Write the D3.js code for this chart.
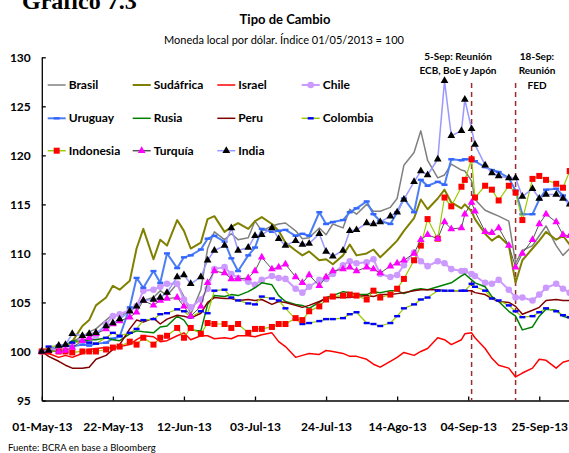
<!DOCTYPE html>
<html>
<head>
<meta charset="utf-8">
<script src="https://cdnjs.cloudflare.com/ajax/libs/d3/7.8.5/d3.min.js"></script>
<style>
  body { margin: 0; background: #fff; }
  text { font-family: Lato, "DejaVu Sans", sans-serif; }
</style>
</head>
<body>
<div id="chart"></div>
<script>
/* Tipo de cambio, indice 01/05/2013 = 100 */

var dates = ["2013-05-01","2013-05-03","2013-05-06","2013-05-08","2013-05-10","2013-05-13","2013-05-15","2013-05-17","2013-05-20","2013-05-22",
  "2013-05-24","2013-05-27","2013-05-29","2013-05-31","2013-06-03","2013-06-05","2013-06-07","2013-06-10","2013-06-12","2013-06-14",
  "2013-06-17","2013-06-19","2013-06-21","2013-06-24","2013-06-26","2013-06-28","2013-07-01","2013-07-03","2013-07-05","2013-07-08",
  "2013-07-10","2013-07-12","2013-07-15","2013-07-17","2013-07-19","2013-07-22","2013-07-24","2013-07-26","2013-07-29","2013-07-31",
  "2013-08-02","2013-08-05","2013-08-07","2013-08-09","2013-08-12","2013-08-14","2013-08-16","2013-08-19","2013-08-21","2013-08-23",
  "2013-08-26","2013-08-28","2013-08-30","2013-09-02","2013-09-03","2013-09-05","2013-09-06","2013-09-09","2013-09-11","2013-09-13",
  "2013-09-16","2013-09-18","2013-09-20","2013-09-23","2013-09-25","2013-09-27","2013-09-30","2013-10-02","2013-10-04"];

var brasil = [100,100.3,100.4,100.6,101,101.5,102,102.3,103.2,103.8,
  103.6,104.1,104.6,105.2,105.5,106.2,105.7,106.9,105.6,103.8,
  106.3,110.5,112.2,111.4,112.0,111.4,111.6,113.3,112.3,112.8,
  113.0,113.1,112.3,111.5,111.6,112.6,111.9,113.0,112.6,114.5,
  114.0,115.0,114.3,114.3,114.7,115.6,119.0,120.3,122.5,119.5,
  117.7,118.0,119.1,118.5,118.4,117.4,115.5,114.4,114.1,113.8,
  113.3,109.0,110.3,110.8,111.8,112.8,110.8,109.8,110.5];

var sudafrica = [100,100.1,100.3,100.5,101.0,102.6,103.2,104.7,105.5,106.7,
  106.3,107.2,110.5,112.5,109.4,111.4,110.8,113.4,112.3,110.5,
  111.1,113.5,113.8,112.2,112.7,113.1,112.5,113.3,113.7,113.0,
  112.3,111.1,110.3,109.8,110.2,109.3,109.4,108.9,109.8,110.9,
  109.8,110.0,110.4,109.6,110.6,111.3,112.3,113.6,115.5,114.5,
  115.6,116.5,115.2,114.6,115.0,114.3,113.5,112.0,111.3,111.8,
  110.8,107.0,109.3,110.5,111.3,112.2,111.4,111.8,110.9];

var israel = [100,99.8,99.4,99.6,99.4,99.8,100.2,100.3,100.4,100.3,
  100.5,100.7,101.2,101.6,101.5,101.0,101.1,101.6,101.9,101.2,
  101.6,101.6,101.3,101.4,101.3,101.6,101.6,101.5,101.7,101.9,
  101.0,100.5,99.4,99.6,99.8,99.7,100.1,100.0,99.8,99.5,
  99.5,99.2,98.7,98.4,99.0,99.4,99.9,99.6,100.0,100.3,
  101.4,101.2,100.7,101.2,101.8,101.9,101.4,100.3,99.3,98.6,
  98.3,97.4,97.8,98.3,99.2,99.1,98.3,98.9,99.1];

var chile = [100,100.2,100.3,100.5,100.8,101.2,101.0,101.6,102.8,103.6,
  103.8,104.2,104.6,106.2,106.3,106.6,106.9,106.9,105.3,104.5,
  105.3,106.4,108.4,108.6,107.9,107.5,107.1,106.8,107.3,107.7,
  107.5,107.4,106.4,106.0,106.6,107.3,107.4,107.9,108.8,109.2,
  109.0,109.1,109.4,107.9,107.6,107.8,108.8,110.1,109.2,108.7,
  109.2,109.0,108.4,108.2,108.2,107.9,107.7,107.0,106.9,107.3,
  106.3,105.5,105.5,105.2,105.8,106.5,106.9,106.4,106.0];

var uruguay = [100,100.2,100.5,100.6,100.5,100.7,100.6,100.8,100.9,101.3,
  101.5,104.5,107.5,106.5,108.2,107.0,110.0,108.5,109.6,109.8,
  110.4,111.5,111.8,111.2,109.5,108.2,109.8,110.6,112.5,112.2,
  112.3,112.4,111.8,112.0,111.8,114.2,113.0,113.2,113.4,114.2,
  114.6,115.3,114.0,113.3,113.0,114.2,115.6,114.2,117.5,116.9,
  117.3,117.0,119.6,119.5,119.6,119.6,119.4,118.8,118.5,118.3,
  117.7,116.4,114.0,114.0,115.5,116.5,116.6,115.9,115.0];

var rusia = [100,100.2,100.5,100.6,101.1,101.0,101.2,101.2,101.4,101.2,
  101.1,101.8,102.1,102.0,101.9,102.5,102.6,103.6,103.2,102.2,
  102.1,104.8,105.7,105.6,105.8,105.7,106.1,106.5,107.0,106.8,
  105.7,105.1,104.8,104.7,104.4,105.0,105.5,105.7,106.1,106.0,
  105.8,105.8,106.1,106.0,106.2,106.2,105.9,106.3,106.4,106.3,
  106.6,106.8,107.0,107.7,107.9,107.3,107.0,106.6,105.6,105.1,
  104.1,103.6,102.2,102.5,103.6,104.3,104.2,103.6,103.4];

var peru = [100,99.5,99.0,98.6,98.3,98.3,98.4,99.2,99.6,100.2,
  100.7,102.3,103.2,103.0,103.4,102.8,103.3,103.7,103.6,103.4,
  103.9,105.0,105.5,105.4,105.4,105.2,105.3,105.2,105.3,104.8,
  105.1,105.0,104.7,104.5,104.7,105.1,105.4,105.5,105.5,105.5,
  105.6,105.7,105.6,105.8,105.8,105.9,106.0,106.2,106.3,106.3,
  106.3,106.2,106.2,106.2,106.2,106.2,106.0,105.8,105.4,105.1,
  105.0,104.6,103.8,104.2,104.5,105.2,105.3,105.2,105.2];

var colombia = [100,100.5,100.6,100.6,100.9,101.0,100.9,100.8,101.4,101.9,
  101.6,101.9,102.3,103.2,103.3,103.8,103.9,104.3,104.1,103.5,
  104.1,103.9,106.2,106.3,105.5,105.2,104.9,104.8,105.6,105.4,
  105.2,104.4,103.3,102.8,102.9,103.1,103.3,103.3,103.4,103.8,
  104.0,102.9,102.8,102.6,102.9,103.6,104.4,104.8,105.3,105.5,
  106.2,106.2,106.2,106.2,106.2,106.9,106.6,106.2,105.4,105.2,
  104.7,104.1,103.5,103.6,104.0,104.4,104.1,103.7,103.5];

var indonesia = [100,100,100,100,99.9,100,100,100,100.2,100.4,
  100.5,101.0,100.7,101.4,100.7,101.4,101.6,102.4,101.4,102.4,
  101.8,102.9,102.8,102.8,102.4,102.8,101.9,102.3,102.3,102.5,
  102.8,102.8,103.4,103.2,104.1,104.6,105.3,105.6,105.7,105.8,
  105.7,105.3,106.2,105.5,105.8,106.4,107.4,109.3,110.8,113.5,
  111.5,115.7,114.8,116.8,117.5,119.6,115.7,116.9,116.5,115.4,
  116.9,116.2,113.4,117.6,117.9,117.5,117.1,116.7,118.4];

var turquia = [100,100.1,100.0,100.1,100.4,101.1,101.4,101.8,102.3,102.8,
  103.1,103.5,104.0,105.2,104.7,105.2,105.4,105.5,104.6,103.6,
  104.6,107.0,108.2,108.0,107.4,107.4,107.5,108.2,109.6,108.4,
  108.6,108.9,107.6,107.0,107.8,106.7,107.6,108.2,108.4,108.6,
  108.2,108.6,108.4,108.0,108.7,109.0,109.3,110.0,111.4,111.9,
  111.5,113.2,112.5,112.6,114.0,115.2,114.3,112.2,112.1,112.6,
  110.8,108.6,110.0,111.4,113.0,114.0,113.2,111.9,111.8];

var india = [100,100.1,100.6,100.7,101.8,101.6,101.8,101.9,102.6,102.9,
  103.3,104.1,104.6,105.2,105.3,105.5,106.0,107.6,107.8,106.9,
  107.6,109.3,110.3,110.8,112.6,110.3,110.6,111.8,111.9,112.6,
  111.5,110.8,111.3,110.9,111.0,112.0,110.2,109.7,110.3,112.3,
  112.4,113.1,113.0,113.2,113.8,114.2,115.5,117.3,118.4,118.0,
  119.6,127.6,122.0,122.5,125.7,122.7,121.1,119.0,118.2,117.9,
  117.7,117.7,115.8,116.6,115.6,116.0,116.0,115.6,115.0];

var seriesNames = ["Brasil", "Sudáfrica", "Israel", "Chile", "Uruguay", "Rusia",
                   "Peru", "Colombia", "Indonesia", "Turquía", "India"];
var seriesValues = [brasil, sudafrica, israel, chile, uruguay, rusia,
                    peru, colombia, indonesia, turquia, india];

var xTickDates = ["2013-05-01","2013-05-22","2013-06-12","2013-07-03","2013-07-24","2013-08-14","2013-09-04","2013-09-25"];
var xTickLabels = ["01-May-13","22-May-13","12-Jun-13","03-Jul-13","24-Jul-13","14-Ago-13","04-Sep-13","25-Sep-13"];
var yTicks = [95, 100, 105, 110, 115, 120, 125, 130];

var eventDates = ["2013-09-05", "2013-09-18"];
var eventLabels = [["5-Sep: Reunión", "ECB, BoE y Japón"], ["18-Sep:", "Reunión", "FED"]];

// estilos de cada serie
var styles = {
  "Brasil":    {line: "#808080", w: 1.5},
  "Sudáfrica": {line: "#808000", w: 2},
  "Israel":    {line: "#ff0000", w: 1.5},
  "Chile":     {line: "#cc99ff", w: 2, marker: "circle", mcolor: "#cc99ff"},
  "Uruguay":   {line: "#4d7ff2", w: 2, marker: "dash", mcolor: "#3366ff"},
  "Rusia":     {line: "#008000", w: 1.5},
  "Peru":      {line: "#800000", w: 1.5},
  "Colombia":  {line: "#99cc00", w: 1.2, marker: "dash", mcolor: "#0000ff"},
  "Indonesia": {line: "#99cc00", w: 1.2, marker: "square", mcolor: "#ff0000"},
  "Turquía":   {line: "#555555", w: 1, marker: "triangle", mcolor: "#ff00ff"},
  "India":     {line: "#9999ff", w: 1.5, marker: "triangle", mcolor: "#000000"}
};

var width = 569, height = 453;
var parse = d3.utcParse("%Y-%m-%d");

var svg = d3.select("#chart")
            .append("svg")
            .attr("width", width)
            .attr("height", height)
            .style("background", "#fff");

var x = d3.scaleUtc()
    .domain([parse("2013-05-01"), parse("2013-10-06")])
    .range([41.8, 576.5]);

var y = d3.scaleLinear()
    .domain([95, 130])
    .range([400.5, 57.3]);

// titulos
svg.append("text")
    .attr("x", 22).attr("y", 9)
    .style("font-family", "'Liberation Serif', serif")
    .style("font-weight", "bold")
    .style("font-size", "24px")
    .text("Gráfico 7.3");

svg.append("text")
    .attr("x", 285).attr("y", 24)
    .attr("text-anchor", "middle")
    .style("font-weight", "bold")
    .style("font-size", "13px")
    .text("Tipo de Cambio");

svg.append("text")
    .attr("x", 284).attr("y", 44)
    .attr("text-anchor", "middle")
    .style("font-size", "11px")
    .text("Moneda local por dólar. Índice 01/05/2013 = 100");

// ejes
var xAxis = d3.axisBottom(x)
    .tickValues(xTickDates.map(parse))
    .tickFormat(function(d, i) { return xTickLabels[i]; })
    .tickSizeInner(-4)
    .tickSizeOuter(0)
    .tickPadding(22);

var yAxis = d3.axisLeft(y)
    .tickValues(yTicks)
    .tickSizeInner(-4)
    .tickSizeOuter(0)
    .tickPadding(11);

var gx = svg.append("g")
    .attr("transform", "translate(0," + y(95) + ")")
    .call(xAxis);

var gy = svg.append("g")
    .attr("transform", "translate(" + x(parse("2013-05-01")) + ",0)")
    .call(yAxis);

[gx, gy].forEach(function(g) {
  g.selectAll("path, line").attr("stroke", "#000").attr("stroke-width", 1.3);
  g.selectAll("text")
    .attr("fill", "#000")
    .style("font-family", "Lato, sans-serif")
    .style("font-weight", "bold")
    .style("font-size", "12px");
});

// lineas de eventos
eventDates.forEach(function(d, i) {
  var ex = x(parse(d));
  svg.append("line")
    .attr("x1", ex).attr("x2", ex)
    .attr("y1", 83).attr("y2", y(95))
    .attr("stroke", "#962e2e")
    .attr("stroke-width", 1.5)
    .attr("stroke-dasharray", "5,4");
});

var labelX = [458, 537];
eventLabels.forEach(function(lines, i) {
  lines.forEach(function(t, j) {
    svg.append("text")
      .attr("x", labelX[i]).attr("y", 59.5 + j * 14.7)
      .attr("text-anchor", "middle")
      .style("font-weight", "bold")
      .style("font-size", "10px")
      .text(t);
  });
});

// series
var line = d3.line()
    .x(function(d) { return x(d.date); })
    .y(function(d) { return y(d.value); });

var plot = svg.append("g");

function drawMarker(g, kind, color, px, py) {
  if (kind == "circle") {
    g.append("circle").attr("cx", px).attr("cy", py).attr("r", 3.3).attr("fill", color);
  } else if (kind == "dash") {
    g.append("rect").attr("x", px - 3).attr("y", py - 1.2).attr("width", 6).attr("height", 2.4).attr("fill", color);
  } else if (kind == "square") {
    g.append("rect").attr("x", px - 3).attr("y", py - 3).attr("width", 6).attr("height", 6).attr("fill", color);
  } else if (kind == "triangle") {
    g.append("path")
      .attr("d", d3.symbol().type(d3.symbolTriangle).size(26)())
      .attr("transform", "translate(" + px + "," + py + ")")
      .attr("fill", color);
  }
}

seriesNames.forEach(function(name, k) {
  var st = styles[name];
  var data = seriesValues[k].map(function(v, i) { return {date: parse(dates[i]), value: v}; });
  var g = plot.append("g").attr("class", "serie");
  g.append("path")
    .datum(data)
    .attr("d", line)
    .attr("fill", "none")
    .attr("stroke", st.line)
    .attr("stroke-width", st.w)
    .attr("stroke-linejoin", "round");
  if (st.marker) {
    data.forEach(function(d) {
      drawMarker(g, st.marker, st.mcolor, x(d.date), y(d.value));
    });
  }
});

// leyenda
var legX = [47.7, 132.7, 217.3, 301.7];
var legY = [85, 118.3, 150.7];
var legend = svg.append("g").attr("class", "legend");
seriesNames.forEach(function(name, k) {
  var st = styles[name];
  var lx = legX[k % 4], ly = legY[Math.floor(k / 4)];
  legend.append("line")
    .attr("x1", lx).attr("x2", lx + 18)
    .attr("y1", ly).attr("y2", ly)
    .attr("stroke", st.line)
    .attr("stroke-width", Math.max(st.w, 1.5));
  if (st.marker) drawMarker(legend, st.marker, st.mcolor, lx + 9, ly);
  legend.append("text")
    .attr("x", lx + 21).attr("y", ly + 4)
    .style("font-weight", "bold")
    .style("font-size", "12px")
    .text(name);
});

svg.append("text")
    .attr("x", 8).attr("y", 451)
    .style("font-size", "9.5px")
    .text("Fuente: BCRA en base a Bloomberg");
</script>
</body>
</html>
